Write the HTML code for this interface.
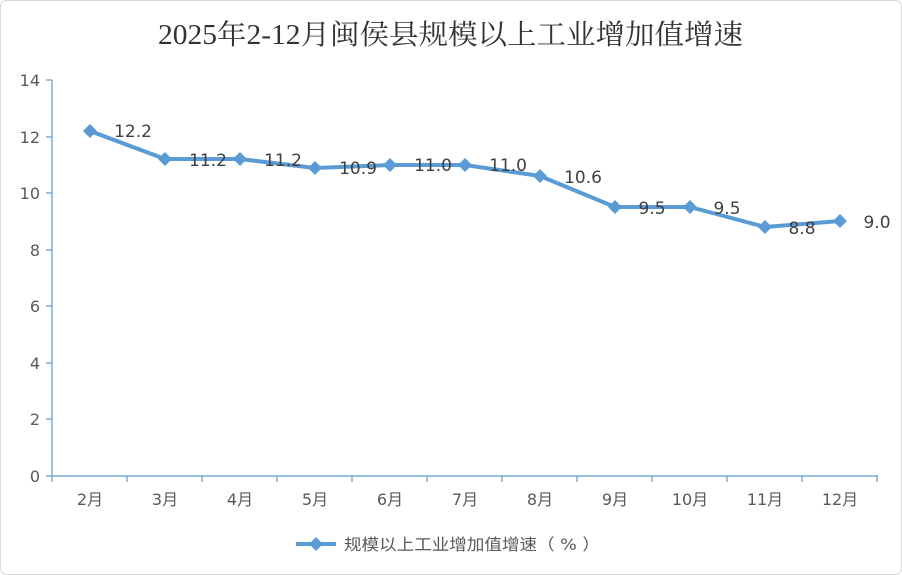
<!DOCTYPE html>
<html><head><meta charset="utf-8"><style>
body{margin:0;background:#fff;}
svg{display:block;}
</style></head><body>
<svg width="902" height="575" xmlns="http://www.w3.org/2000/svg">
<rect x="0.5" y="0.5" width="901" height="574" rx="6" fill="#fff" stroke="#d9d9d9"/>
<text x="158" y="44" textLength="585" lengthAdjust="spacingAndGlyphs" font-family="'Liberation Serif','Noto Serif CJK SC',serif" font-size="28" fill="#333">2025年2-12月闽侯县规模以上工业增加值增速</text>
<g stroke="#5b9bd5" stroke-width="1.2">
<line x1="52" y1="80" x2="52" y2="476"/>
<line x1="52" y1="476" x2="878" y2="476"/>
<line x1="46" y1="80" x2="52" y2="80"/><line x1="46" y1="137" x2="52" y2="137"/><line x1="46" y1="193" x2="52" y2="193"/><line x1="46" y1="250" x2="52" y2="250"/><line x1="46" y1="306" x2="52" y2="306"/><line x1="46" y1="363" x2="52" y2="363"/><line x1="46" y1="419" x2="52" y2="419"/><line x1="46" y1="476" x2="52" y2="476"/>
<line x1="52" y1="476" x2="52" y2="482"/><line x1="127" y1="476" x2="127" y2="482"/><line x1="202" y1="476" x2="202" y2="482"/><line x1="277" y1="476" x2="277" y2="482"/><line x1="352" y1="476" x2="352" y2="482"/><line x1="427" y1="476" x2="427" y2="482"/><line x1="502" y1="476" x2="502" y2="482"/><line x1="577" y1="476" x2="577" y2="482"/><line x1="652" y1="476" x2="652" y2="482"/><line x1="727" y1="476" x2="727" y2="482"/><line x1="802" y1="476" x2="802" y2="482"/><line x1="877" y1="476" x2="877" y2="482"/>
</g>
<g font-family="'DejaVu Sans','Liberation Sans',sans-serif" font-size="16" fill="#595959" text-anchor="end">
<text x="40" y="86">14</text><text x="40" y="143">12</text><text x="40" y="199">10</text><text x="40" y="256">8</text><text x="40" y="312">6</text><text x="40" y="369">4</text><text x="40" y="425">2</text><text x="40" y="482">0</text>
</g>
<g font-family="'DejaVu Sans','Noto Sans CJK SC',sans-serif" font-size="16" fill="#595959" text-anchor="middle">
<text x="90" y="505">2月</text><text x="165" y="505">3月</text><text x="240" y="505">4月</text><text x="315" y="505">5月</text><text x="390" y="505">6月</text><text x="465" y="505">7月</text><text x="540" y="505">8月</text><text x="615" y="505">9月</text><text x="690" y="505">10月</text><text x="765" y="505">11月</text><text x="840" y="505">12月</text>
</g>
<polyline fill="none" stroke="#5b9bd5" stroke-width="4" stroke-linejoin="round" points="90,131 165,159 240,159 315,168 390,165 465,165 540,176 615,207 690,207 765,227 840,221"/>
<g fill="#5b9bd5">
<path d="M90,124l7,7l-7,7l-7,-7z"/><path d="M165,152l7,7l-7,7l-7,-7z"/><path d="M240,152l7,7l-7,7l-7,-7z"/><path d="M315,161l7,7l-7,7l-7,-7z"/><path d="M390,158l7,7l-7,7l-7,-7z"/><path d="M465,158l7,7l-7,7l-7,-7z"/><path d="M540,169l7,7l-7,7l-7,-7z"/><path d="M615,200l7,7l-7,7l-7,-7z"/><path d="M690,200l7,7l-7,7l-7,-7z"/><path d="M765,220l7,7l-7,7l-7,-7z"/><path d="M840,214l7,7l-7,7l-7,-7z"/>
</g>
<g font-family="'DejaVu Sans','Liberation Sans',sans-serif" font-size="17" fill="#404040" text-anchor="middle">
<text x="133" y="137">12.2</text><text x="208" y="166">11.2</text><text x="283" y="166">11.2</text><text x="358" y="174">10.9</text><text x="433" y="171">11.0</text><text x="508" y="171">11.0</text><text x="583" y="183">10.6</text><text x="652" y="214">9.5</text><text x="727" y="214">9.5</text><text x="802" y="234">8.8</text><text x="877" y="228">9.0</text>
</g>
<line x1="296" y1="544" x2="336" y2="544" stroke="#5b9bd5" stroke-width="4"/>
<path d="M316,537l7,7l-7,7l-7,-7z" fill="#5b9bd5"/>
<text x="344" y="550" textLength="256" lengthAdjust="spacingAndGlyphs" font-family="'DejaVu Sans','Noto Sans CJK SC',sans-serif" font-size="16" fill="#595959">规模以上工业增加值增速（ % ）</text>
</svg>
</body></html>
